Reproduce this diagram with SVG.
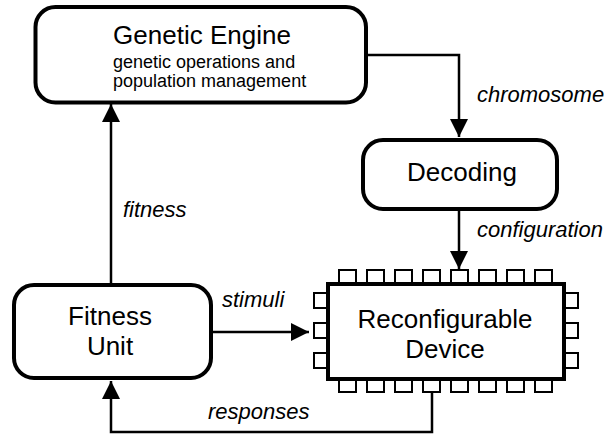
<svg xmlns="http://www.w3.org/2000/svg" width="604" height="437" viewBox="0 0 604 437">
<style>
.box{fill:#fff;stroke:#000;stroke-width:4}
.pin{fill:#fff;stroke:#000;stroke-width:2}
.line{fill:none;stroke:#000;stroke-width:2.5}
.t{font-family:"Liberation Sans",Arial,sans-serif;fill:#000}
.big{font-size:26px}
.small{font-size:18px}
.lbl{font-size:22px;font-style:italic}
</style>
<defs>
<marker id="ah" markerWidth="18" markerHeight="18" refX="18" refY="9" orient="auto" markerUnits="userSpaceOnUse">
<path d="M0,0 L18,9 L0,18 Z" fill="#000"/>
</marker>
</defs>
<rect width="604" height="437" fill="#fff"/>
<g id="connectors">
<path class="line" d="M366,55 H459 V137" marker-end="url(#ah)"/>
<path class="line" d="M459,211 V269" marker-end="url(#ah)"/>
<path class="line" d="M111,284 V104" marker-end="url(#ah)"/>
<path class="line" d="M211,332 H309" marker-end="url(#ah)"/>
<path class="line" d="M432,392 V432 H111 V381" marker-end="url(#ah)"/>
<text class="t lbl" x="477" y="102">chromosome</text>
<text class="t lbl" x="477" y="237">configuration</text>
<text class="t lbl" x="123" y="217">fitness</text>
<text class="t lbl" x="222" y="307">stimuli</text>
<text class="t lbl" x="208" y="419">responses</text>
</g>
<g id="genetic-engine">
<rect class="box" x="35.5" y="7" width="330.5" height="95.5" rx="20"/>
<text class="t big" x="202" y="44" text-anchor="middle">Genetic Engine</text>
<text class="t small" x="113" y="68">genetic operations and</text>
<text class="t small" x="113" y="87">population management</text>
</g>
<g id="decoding">
<rect class="box" x="363" y="140" width="194" height="69" rx="20"/>
<text class="t big" x="462" y="181" text-anchor="middle">Decoding</text>
</g>
<g id="fitness-unit">
<rect class="box" x="14" y="285" width="197" height="93" rx="20"/>
<text class="t big" x="110" y="325" text-anchor="middle">Fitness</text>
<text class="t big" x="110" y="355" text-anchor="middle">Unit</text>
</g>
<g id="reconfigurable-device">
<g>
<rect class="pin" x="339" y="270" width="17" height="14"/>
<rect class="pin" x="367" y="270" width="17" height="14"/>
<rect class="pin" x="395" y="270" width="17" height="14"/>
<rect class="pin" x="423" y="270" width="17" height="14"/>
<rect class="pin" x="451" y="270" width="17" height="14"/>
<rect class="pin" x="479" y="270" width="17" height="14"/>
<rect class="pin" x="507" y="270" width="17" height="14"/>
<rect class="pin" x="535" y="270" width="17" height="14"/>
<rect class="pin" x="339" y="379" width="17" height="13"/>
<rect class="pin" x="367" y="379" width="17" height="13"/>
<rect class="pin" x="395" y="379" width="17" height="13"/>
<rect class="pin" x="423" y="379" width="17" height="13"/>
<rect class="pin" x="451" y="379" width="17" height="13"/>
<rect class="pin" x="479" y="379" width="17" height="13"/>
<rect class="pin" x="507" y="379" width="17" height="13"/>
<rect class="pin" x="535" y="379" width="17" height="13"/>
<rect class="pin" x="314" y="293" width="14" height="15"/>
<rect class="pin" x="314" y="323" width="14" height="15"/>
<rect class="pin" x="314" y="353" width="14" height="15"/>
<rect class="pin" x="564" y="293" width="14" height="15"/>
<rect class="pin" x="564" y="323" width="14" height="15"/>
<rect class="pin" x="564" y="353" width="14" height="15"/>
</g>
<rect class="box" x="328" y="284" width="236" height="95"/>
<text class="t big" x="445" y="328" text-anchor="middle">Reconfigurable</text>
<text class="t big" x="445" y="358" text-anchor="middle">Device</text>
</g>
</svg>
